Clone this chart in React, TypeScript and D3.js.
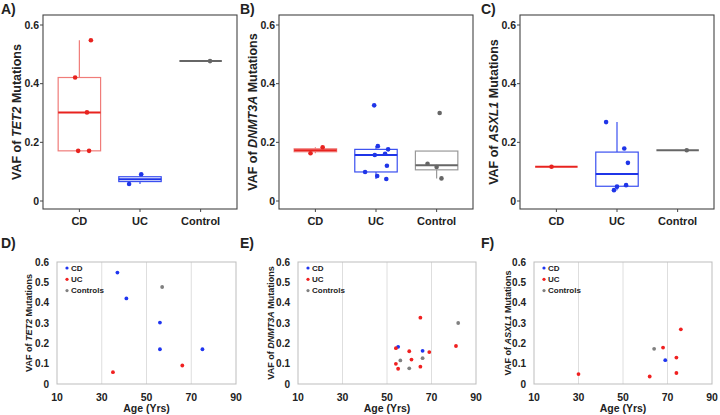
import React from 'react';
import * as d3 from 'd3';

// groups in the box plots (top row) and legend labels (bottom row)
const groups = ['CD', 'UC', 'Control'];
const legendLabels = ['CD', 'UC', 'Controls'];
const genes = ['TET2', 'DNMT3A', 'ASXL1'];
const boxTicks = [0, 0.2, 0.4, 0.6];
const boxTickLabels = ['0', '0.2', '0.4', '0.6'];
const scatterYTicks = [0, 0.1, 0.2, 0.3, 0.4, 0.5, 0.6];
const scatterYTickLabels = ['0', '0.1', '0.2', '0.3', '0.4', '0.5', '0.6'];
const ageTicks = [10, 30, 50, 70, 90];

// TET2
const tet2CdVaf = [0.548, 0.421, 0.302, 0.171, 0.171];
const tet2CdAge = [37, 41, 56, 56, 75];
const tet2CdJitter = [0.19, -0.07, 0.125, -0.02, 0.16];
const tet2UcVaf = [0.058, 0.091];
const tet2UcAge = [35, 66];
const tet2UcJitter = [-0.18, 0.02];
const tet2CtlVaf = [0.477];
const tet2CtlAge = [57];
const tet2CtlJitter = [0.155];

// DNMT3A
const dnmt3aCdVaf = [0.183, 0.163];
const dnmt3aCdAge = [55, 66];
const dnmt3aCdJitter = [0.12, -0.08];
const dnmt3aUcVaf = [0.176, 0.326, 0.161, 0.157, 0.187, 0.099, 0.075, 0.12, 0.085];
const dnmt3aUcAge = [54, 65, 60, 69, 81, 54, 55, 61, 65];
const dnmt3aUcJitter = [0.2, -0.03, 0.15, -0.02, 0.03, -0.18, 0.17, 0.18, 0.02];
const dnmt3aCtlVaf = [0.116, 0.127, 0.077, 0.3];
const dnmt3aCtlAge = [56, 66, 60, 82];
const dnmt3aCtlJitter = [0, -0.15, 0.08, 0.05];

// ASXL1
const asxl1CdVaf = [0.117];
const asxl1CdAge = [69];
const asxl1CdJitter = [-0.08];
const asxl1UcVaf = [0.049, 0.037, 0.179, 0.13, 0.054, 0.269];
const asxl1UcAge = [30, 62, 68, 74, 74, 76];
const asxl1UcJitter = [0, -0.05, 0.12, 0.18, 0.15, -0.18];
const asxl1CtlVaf = [0.173];
const asxl1CtlAge = [64];
const asxl1CtlJitter = [0.15];

const geneData = [
  { vaf: [tet2CdVaf, tet2UcVaf, tet2CtlVaf], age: [tet2CdAge, tet2UcAge, tet2CtlAge], jit: [tet2CdJitter, tet2UcJitter, tet2CtlJitter] },
  { vaf: [dnmt3aCdVaf, dnmt3aUcVaf, dnmt3aCtlVaf], age: [dnmt3aCdAge, dnmt3aUcAge, dnmt3aCtlAge], jit: [dnmt3aCdJitter, dnmt3aUcJitter, dnmt3aCtlJitter] },
  { vaf: [asxl1CdVaf, asxl1UcVaf, asxl1CtlVaf], age: [asxl1CdAge, asxl1UcAge, asxl1CtlAge], jit: [asxl1CdJitter, asxl1UcJitter, asxl1CtlJitter] },
];

const FONT = 'Liberation Sans, Arial, Helvetica, sans-serif';
const TEXT = '#222';
// top row: CD red, UC blue; bottom row swaps them
const boxColors = ['#e8231f', '#1f35e8', '#666666'];
const boxStroke = ['#f07c79', '#3a4ff0', '#999999'];
const dotColors = ['#1f35f0', '#f02020', '#808080'];

const boxPanels = [
  { letter: 'A)', lx: 1, left: 43, right: 237, labelX: 17 },
  { letter: 'B)', lx: 240, left: 279, right: 473, labelX: 253 },
  { letter: 'C)', lx: 481, left: 520, right: 714, labelX: 494 },
];
const scatterPanels = [
  { letter: 'D)', lx: 1, left: 57, right: 236, labelX: 29 },
  { letter: 'E)', lx: 240, left: 298, right: 476, labelX: 271 },
  { letter: 'F)', lx: 481, left: 534, right: 712, labelX: 508 },
];

const BOX_TOP = 15;
const BOX_BOTTOM = 209;

const stats = (vals: number[]) => {
  const s = [...vals].sort(d3.ascending);
  const q1 = d3.quantile(s, 0.25)!;
  const med = d3.quantile(s, 0.5)!;
  const q3 = d3.quantile(s, 0.75)!;
  const iqr = q3 - q1;
  const lo = d3.min(s.filter(v => v >= q1 - 1.5 * iqr))!;
  const hi = d3.max(s.filter(v => v <= q3 + 1.5 * iqr))!;
  return { q1, med, q3, lo: Math.min(lo, q1), hi: Math.max(hi, q3) };
};

const GeneLabel: React.FC<{ gene: string; x: number; y: number; size: number }> = ({ gene, x, y, size }) => (
  <text
    transform={`translate(${x},${y}) rotate(-90)`}
    textAnchor="middle"
    dy="0.35em"
    fontFamily={FONT}
    fontWeight="bold"
    fontSize={size}
    fill={TEXT}
  >
    VAF of <tspan fontStyle="italic">{gene}</tspan> Mutations
  </text>
);

const BoxPanel: React.FC<{ idx: number }> = ({ idx }) => {
  const p = boxPanels[idx];
  const d = geneData[idx];
  const y = d3.scaleLinear().domain([0, 0.6]).range([BOX_BOTTOM - 8, BOX_TOP + 10]);
  const x = d3.scalePoint<string>().domain(groups).range([p.left, p.right]).padding(0.6);
  const step = x.step();
  const bw = step * 0.7;

  return (
    <g>
      <text x={p.lx} y={14} fontFamily={FONT} fontWeight="bold" fontSize={14} fill={TEXT}>{p.letter}</text>
      <rect x={p.left} y={BOX_TOP} width={p.right - p.left} height={BOX_BOTTOM - BOX_TOP} fill="white" stroke="#444" strokeWidth={1.1} />
      {boxTicks.map((t, i) => (
        <g key={t}>
          <line x1={p.left - 3} x2={p.left} y1={y(t)} y2={y(t)} stroke="#444" />
          <text x={p.left - 4} y={y(t)} dy="0.35em" textAnchor="end" fontFamily={FONT} fontWeight="bold" fontSize={10.5} fill={TEXT}>{boxTickLabels[i]}</text>
        </g>
      ))}
      {groups.map(g => (
        <g key={g}>
          <line x1={x(g)} x2={x(g)} y1={BOX_BOTTOM} y2={BOX_BOTTOM + 3} stroke="#444" />
          <text x={x(g)} y={225} textAnchor="middle" fontFamily={FONT} fontWeight="bold" fontSize={11} fill={TEXT}>{g}</text>
        </g>
      ))}
      <GeneLabel gene={genes[idx]} x={p.labelX} y={(BOX_TOP + BOX_BOTTOM) / 2} size={12.5} />
      {groups.map((g, gi) => {
        const s = stats(d.vaf[gi]);
        const cx = x(g)!;
        return (
          <g key={g}>
            <line x1={cx} x2={cx} y1={y(s.q3)} y2={y(s.hi)} stroke={boxStroke[gi]} strokeWidth={1.2} />
            <line x1={cx} x2={cx} y1={y(s.q1)} y2={y(s.lo)} stroke={boxStroke[gi]} strokeWidth={1.2} />
            <rect x={cx - bw / 2} y={y(s.q3)} width={bw} height={Math.max(0, y(s.q1) - y(s.q3))} fill="none" stroke={boxStroke[gi]} strokeWidth={1.2} />
            <line x1={cx - bw / 2} x2={cx + bw / 2} y1={y(s.med)} y2={y(s.med)} stroke={boxColors[gi]} strokeWidth={2} />
            {d.vaf[gi].map((v, k) => (
              <circle key={k} cx={cx + d.jit[gi][k] * step} cy={y(v)} r={2.3} fill={boxColors[gi]} />
            ))}
          </g>
        );
      })}
    </g>
  );
};

const S_TOP = 262;
const S_BOTTOM = 384;

const ScatterPanel: React.FC<{ idx: number }> = ({ idx }) => {
  const p = scatterPanels[idx];
  const d = geneData[idx];
  const x = d3.scaleLinear().domain([10, 90]).range([p.left, p.right]);
  const y = d3.scaleLinear().domain([0, 0.6]).range([S_BOTTOM, S_TOP]);
  return (
    <g>
      <text x={p.lx} y={248} fontFamily={FONT} fontWeight="bold" fontSize={14} fill={TEXT}>{p.letter}</text>
      {ageTicks.slice(1, -1).map(t => (
        <line key={t} x1={x(t)} x2={x(t)} y1={S_TOP} y2={S_BOTTOM} stroke="#dedede" strokeWidth={1} />
      ))}
      <rect x={p.left} y={S_TOP} width={p.right - p.left} height={S_BOTTOM - S_TOP} fill="none" stroke="#bdbdbd" strokeWidth={1} />
      {scatterYTicks.map((t, i) => (
        <text key={t} x={p.left - 8} y={y(t)} dy="0.35em" textAnchor="end" fontFamily={FONT} fontWeight="bold" fontSize={10} fill={TEXT}>{scatterYTickLabels[i]}</text>
      ))}
      {ageTicks.map(t => (
        <text key={t} x={x(t)} y={401} textAnchor="middle" fontFamily={FONT} fontWeight="bold" fontSize={10.5} fill={TEXT}>{t}</text>
      ))}
      <text x={(p.left + p.right) / 2} y={412} textAnchor="middle" fontFamily={FONT} fontWeight="bold" fontSize={10.5} fill={TEXT}>Age (Yrs)</text>
      <GeneLabel gene={genes[idx]} x={p.labelX} y={(S_TOP + S_BOTTOM) / 2} size={9} />
      {legendLabels.map((l, i) => (
        <g key={l}>
          <circle cx={p.left + 10} cy={S_TOP + 6 + i * 11.3} r={1.6} fill={dotColors[i]} />
          <text x={p.left + 14} y={S_TOP + 6 + i * 11.3} dy="0.35em" fontFamily={FONT} fontWeight="bold" fontSize={8} fill={TEXT}>{l}</text>
        </g>
      ))}
      {groups.map((g, gi) =>
        d.vaf[gi].map((v, k) => (
          <circle key={`${g}${k}`} cx={x(d.age[gi][k])} cy={y(v)} r={1.9} fill={dotColors[gi]} />
        ))
      )}
    </g>
  );
};

export default function App() {
  return (
    <svg width={720} height={415} style={{ position: 'absolute', left: 0, top: 0, background: 'white' }}>
      <rect width={720} height={415} fill="white" />
      {[0, 1, 2].map(i => <BoxPanel key={`b${i}`} idx={i} />)}
      {[0, 1, 2].map(i => <ScatterPanel key={`s${i}`} idx={i} />)}
    </svg>
  );
}
